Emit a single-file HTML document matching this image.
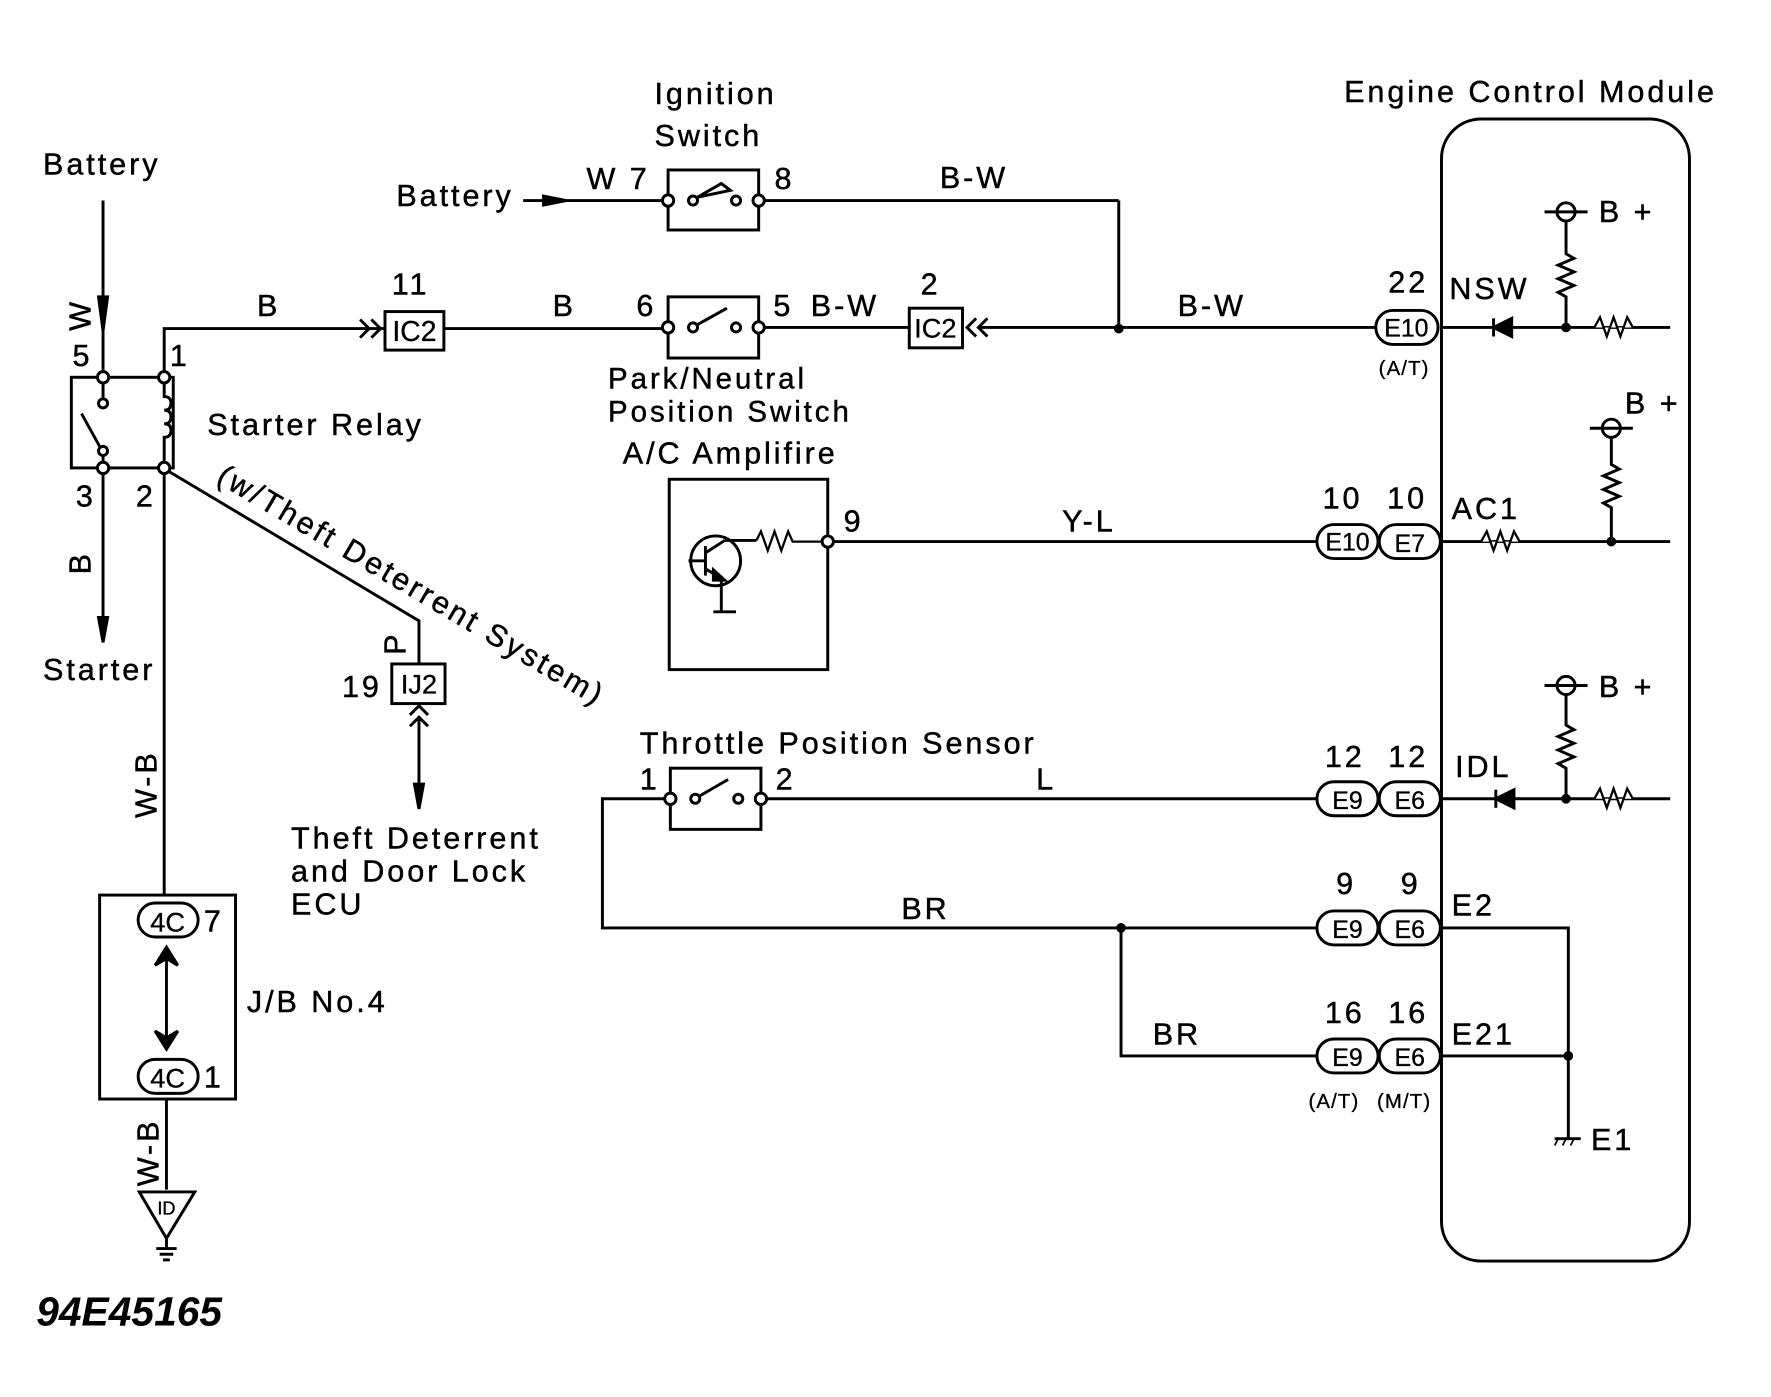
<!DOCTYPE html>
<html><head><meta charset="utf-8"><style>
html,body{margin:0;padding:0;background:#fff;}
svg{display:block;}
text{font-family:"Liberation Sans",sans-serif;fill:#000;}
</style></head><body>
<svg width="1771" height="1397" viewBox="0 0 1564 1233" preserveAspectRatio="none" xmlns="http://www.w3.org/2000/svg">
<g fill="none" stroke="#000" stroke-width="2.6">
<line x1="91" y1="177" x2="91" y2="333"/>
<path d="M87 262 L91 292 L95 262 Z" fill="#000"/>
<rect x="63" y="333" width="90" height="80"/>
<line x1="91" y1="333" x2="91" y2="352"/>
<circle cx="91" cy="356" r="4" fill="#fff"/>
<line x1="72" y1="365" x2="88" y2="394"/>
<circle cx="91" cy="398" r="4" fill="#fff"/>
<line x1="91" y1="402" x2="91" y2="413"/>
<path d="M145 333 V350 q6 0 6 6 q0 6 -6 6 q6 0 6 6 q0 6 -6 6 q6 0 6 6 q0 6 -6 6 V413"/>
<circle cx="91" cy="333" r="5" fill="#fff"/>
<circle cx="145" cy="333" r="5" fill="#fff"/>
<circle cx="91" cy="413" r="5" fill="#fff"/>
<circle cx="145" cy="413" r="5" fill="#fff"/>
<polyline points="145,328 145,290 340,290"/>
<polyline points="318,282 326,290 318,298"/><polyline points="328,282 336,290 328,298"/>
<rect x="340" y="275" width="52" height="34"/>
<line x1="392" y1="290" x2="590" y2="290"/>
<line x1="91" y1="418" x2="91" y2="565"/>
<path d="M87 545 L91 567 L95 545 Z" fill="#000"/>
<line x1="145" y1="418" x2="145" y2="790"/>
<polyline points="149,416 370,548 370,586"/>
<rect x="346" y="586" width="47" height="35"/>
<polyline points="362,631 370,623 378,631"/><polyline points="362,641 370,633 378,641"/>
<line x1="370" y1="633" x2="370" y2="710"/>
<path d="M366 692 L370 714 L374 692 Z" fill="#000"/>
<rect x="88" y="790" width="120" height="180"/>
<rect x="122" y="797" width="53" height="30" rx="15" fill="#fff"/>
<rect x="122" y="935" width="53" height="30" rx="15" fill="#fff"/>
<line x1="147" y1="840" x2="147" y2="922"/>
<path d="M137 852 L147 836 L157 852 L147 846 Z" fill="#000"/>
<path d="M137 910 L147 926 L157 910 L147 916 Z" fill="#000"/>
<line x1="147" y1="970" x2="147" y2="1050"/>
<path d="M123 1052 L172 1052 L147 1093 Z"/>
<line x1="147" y1="1093" x2="147" y2="1102"/>
<line x1="138" y1="1102" x2="156" y2="1102"/><line x1="141" y1="1107" x2="153" y2="1107"/><line x1="144" y1="1112" x2="150" y2="1112"/>
<line x1="462" y1="177" x2="590" y2="177"/>
<path d="M480 173 L500 177 L480 181 Z" fill="#000"/>
<rect x="590" y="150" width="80" height="53"/>
<line x1="670" y1="177" x2="988" y2="177"/>
<line x1="988" y1="177" x2="988" y2="290"/>
<path d="M616 174 L637 162 L645 168 Z"/>
<circle cx="612" cy="177" r="4" fill="#fff"/><circle cx="650" cy="177" r="4" fill="#fff"/>
<circle cx="590" cy="177" r="5" fill="#fff"/><circle cx="670" cy="177" r="5" fill="#fff"/>
<rect x="590" y="262" width="80" height="54"/>
<line x1="615" y1="287" x2="642" y2="272"/>
<circle cx="612" cy="289" r="4" fill="#fff"/><circle cx="650" cy="289" r="4" fill="#fff"/>
<circle cx="590" cy="289" r="5" fill="#fff"/><circle cx="670" cy="289" r="5" fill="#fff"/>
<line x1="675" y1="289" x2="803" y2="289"/>
<rect x="803" y="272" width="47" height="35"/>
<polyline points="862,281 854,289 862,297"/><polyline points="872,281 864,289 872,297"/>
<line x1="864" y1="289" x2="1215" y2="289"/>
<circle cx="988" cy="290" r="3" fill="#000"/>
<rect x="1273" y="105" width="219" height="1008" rx="35"/>
<rect x="1215" y="274" width="55" height="30" rx="15" fill="#fff"/>
<line x1="1273" y1="289" x2="1475" y2="289"/>
<path d="M1319 289 L1335 281 L1335 297 Z" fill="#000"/><line x1="1319" y1="281" x2="1319" y2="297"/>
<circle cx="1383" cy="289" r="3" fill="#000"/>
<polyline points="1383,289 1383,262 1376,258 1390,252 1376,246 1390,240 1376,234 1390,228 1383,224 1383,195"/>
<circle cx="1383" cy="187" r="8" fill="#fff"/><line x1="1364" y1="187" x2="1402" y2="187"/>
<polyline points="1403,289 1408,289 1413,280 1419,297 1425,280 1431,297 1437,280 1442,289 1447,289" fill="#fff" stroke-width="2"/>
<rect x="591" y="423" width="140" height="168"/>
<circle cx="632" cy="495" r="22"/>
<line x1="608" y1="495" x2="623" y2="495"/><line x1="623" y1="482" x2="623" y2="508"/>
<line x1="623" y1="488" x2="640" y2="477"/><line x1="623" y1="502" x2="636" y2="510"/>
<path d="M630 503 L640 512 L630 512 Z" fill="#000"/>
<line x1="637" y1="510" x2="637" y2="540"/>
<line x1="630" y1="540" x2="650" y2="540"/>
<line x1="640" y1="477" x2="668" y2="477"/>
<polyline points="668,477 672,469 678,486 684,469 690,486 696,469 700,478 731,478" stroke-width="2"/>
<circle cx="731" cy="478" r="5" fill="#fff"/>
<line x1="736" y1="478" x2="1163" y2="478"/>
<rect x="1163" y="463" width="54" height="30" rx="15" fill="#fff"/>
<rect x="1218" y="463" width="54" height="30" rx="15" fill="#fff"/>
<line x1="1273" y1="478" x2="1475" y2="478"/>
<polyline points="1303,478 1308,478 1313,469 1319,486 1325,469 1331,486 1337,469 1342,478 1347,478" fill="#fff" stroke-width="2"/>
<circle cx="1423" cy="478" r="3" fill="#000"/>
<polyline points="1423,478 1423,448 1416,444 1430,438 1416,432 1430,426 1416,420 1430,414 1423,410 1423,386"/>
<circle cx="1423" cy="378" r="8" fill="#fff"/><line x1="1404" y1="378" x2="1442" y2="378"/>
<rect x="592" y="678" width="80" height="54"/>
<line x1="617" y1="703" x2="643" y2="688"/>
<circle cx="614" cy="705" r="4" fill="#fff"/><circle cx="652" cy="705" r="4" fill="#fff"/>
<polyline points="592,705 532,705 532,819 1163,819"/>
<circle cx="592" cy="705" r="5" fill="#fff"/><circle cx="672" cy="705" r="5" fill="#fff"/>
<line x1="677" y1="705" x2="1163" y2="705"/>
<polyline points="990,819 990,932 1163,932"/>
<circle cx="990" cy="819" r="3" fill="#000"/>
<rect x="1163" y="690" width="54" height="30" rx="15" fill="#fff"/>
<rect x="1218" y="690" width="54" height="30" rx="15" fill="#fff"/>
<rect x="1163" y="804" width="54" height="30" rx="15" fill="#fff"/>
<rect x="1218" y="804" width="54" height="30" rx="15" fill="#fff"/>
<rect x="1163" y="917" width="54" height="30" rx="15" fill="#fff"/>
<rect x="1218" y="917" width="54" height="30" rx="15" fill="#fff"/>
<line x1="1273" y1="705" x2="1475" y2="705"/>
<path d="M1321 705 L1337 697 L1337 713 Z" fill="#000"/><line x1="1321" y1="697" x2="1321" y2="713"/>
<circle cx="1383" cy="705" r="3" fill="#000"/>
<polyline points="1383,705 1383,678 1376,674 1390,668 1376,662 1390,656 1376,650 1390,644 1383,640 1383,613"/>
<circle cx="1383" cy="605" r="8" fill="#fff"/><line x1="1364" y1="605" x2="1402" y2="605"/>
<polyline points="1403,705 1408,705 1413,696 1419,713 1425,696 1431,713 1437,696 1442,705 1447,705" fill="#fff" stroke-width="2"/>
<polyline points="1273,819 1385,819 1385,1005"/>
<line x1="1273" y1="932" x2="1385" y2="932"/>
<circle cx="1385" cy="932" r="3" fill="#000"/>
<line x1="1373" y1="1005" x2="1396" y2="1005"/>
<line x1="1376" y1="1005" x2="1373" y2="1011" stroke-width="1.5"/><line x1="1383" y1="1005" x2="1380" y2="1011" stroke-width="1.5"/><line x1="1390" y1="1005" x2="1387" y2="1011" stroke-width="1.5"/>
</g>
<g font-size="27" letter-spacing="2.6" word-spacing="0" stroke="#000" stroke-width="0.4">
<text x="38" y="154">Battery</text>
<text x="350" y="182">Battery</text>
<text x="578" y="92">Ignition</text>
<text x="578" y="129">Switch</text>
<text x="518" y="167">W 7</text>
<text x="684" y="167">8</text>
<text x="830" y="166">B-W</text>
<text x="1187" y="90">Engine Control Module</text>
<text x="64" y="323">5</text>
<text x="150" y="323">1</text>
<text x="227" y="279">B</text>
<text x="346" y="260">11</text>
<text x="488" y="279">B</text>
<text x="562" y="279">6</text>
<text x="683" y="279">5</text>
<text x="716" y="279">B-W</text>
<text x="813" y="260">2</text>
<text x="1040" y="279">B-W</text>
<text x="1226" y="258">22</text>
<text x="1280" y="264">NSW</text>
<text x="1412" y="196">B +</text>
<text x="183" y="384">Starter Relay</text>
<text x="67" y="447">3</text>
<text x="120" y="447">2</text>
<text x="38" y="600">Starter</text>
<text x="537" y="343" font-size="26">Park/Neutral</text>
<text x="537" y="372" font-size="26">Position Switch</text>
<text x="550" y="409">A/C Amplifire</text>
<text x="745" y="469">9</text>
<text x="938" y="469">Y-L</text>
<text x="1168" y="449">10</text>
<text x="1225" y="449">10</text>
<text x="1282" y="458">AC1</text>
<text x="1435" y="365">B +</text>
<text x="302" y="615">19</text>
<text x="565" y="665">Throttle Position Sensor</text>
<text x="565" y="697">1</text>
<text x="685" y="697">2</text>
<text x="915" y="697">L</text>
<text x="1170" y="677">12</text>
<text x="1226" y="677">12</text>
<text x="1285" y="686">IDL</text>
<text x="1412" y="615">B +</text>
<text x="257" y="749">Theft Deterrent</text>
<text x="257" y="778">and Door Lock</text>
<text x="257" y="807">ECU</text>
<text x="796" y="811">BR</text>
<text x="1018" y="922">BR</text>
<text x="1180" y="789">9</text>
<text x="1237" y="789">9</text>
<text x="1282" y="808">E2</text>
<text x="1170" y="903">16</text>
<text x="1226" y="903">16</text>
<text x="1282" y="922">E21</text>
<text x="1405" y="1015">E1</text>
<text x="180" y="822">7</text>
<text x="180" y="960">1</text>
<text x="218" y="893">J/B No.4</text>
<text transform="translate(80,292) rotate(-90)">W</text>
<text transform="translate(80,507) rotate(-90)">B</text>
<text transform="translate(138,722) rotate(-90)">W-B</text>
<text transform="translate(140,1047) rotate(-90)">W-B</text>
<text transform="translate(358,578) rotate(-90)">P</text>
<text transform="translate(190,425) rotate(30.5)">(w/Theft Deterrent System)</text>
</g>
<g font-size="22" text-anchor="middle" stroke="#000" stroke-width="0.3">
<text x="1242" y="297">E10</text>
<text x="1190" y="486">E10</text>
<text x="1245" y="487">E7</text>
<text x="1190" y="714">E9</text>
<text x="1245" y="714">E6</text>
<text x="1190" y="828">E9</text>
<text x="1245" y="828">E6</text>
<text x="1190" y="941">E9</text>
<text x="1245" y="941">E6</text>
<text x="366" y="301" font-size="25">IC2</text>
<text x="826" y="298" font-size="24">IC2</text>
<text x="370" y="612" font-size="24">IJ2</text>
<text x="148" y="822" font-size="24">4C</text>
<text x="148" y="960" font-size="24">4C</text>
<text x="147" y="1072" font-size="16">ID</text>
<text x="1240" y="331" font-size="18" letter-spacing="1">(A/T)</text>
<text x="1178" y="978" font-size="18" letter-spacing="1">(A/T)</text>
<text x="1240" y="978" font-size="18" letter-spacing="1">(M/T)</text>
</g>
<text x="32" y="1170" font-family="Liberation Serif,serif" font-style="italic" font-weight="bold" font-size="36">94E45165</text>
</svg>
</body></html>
